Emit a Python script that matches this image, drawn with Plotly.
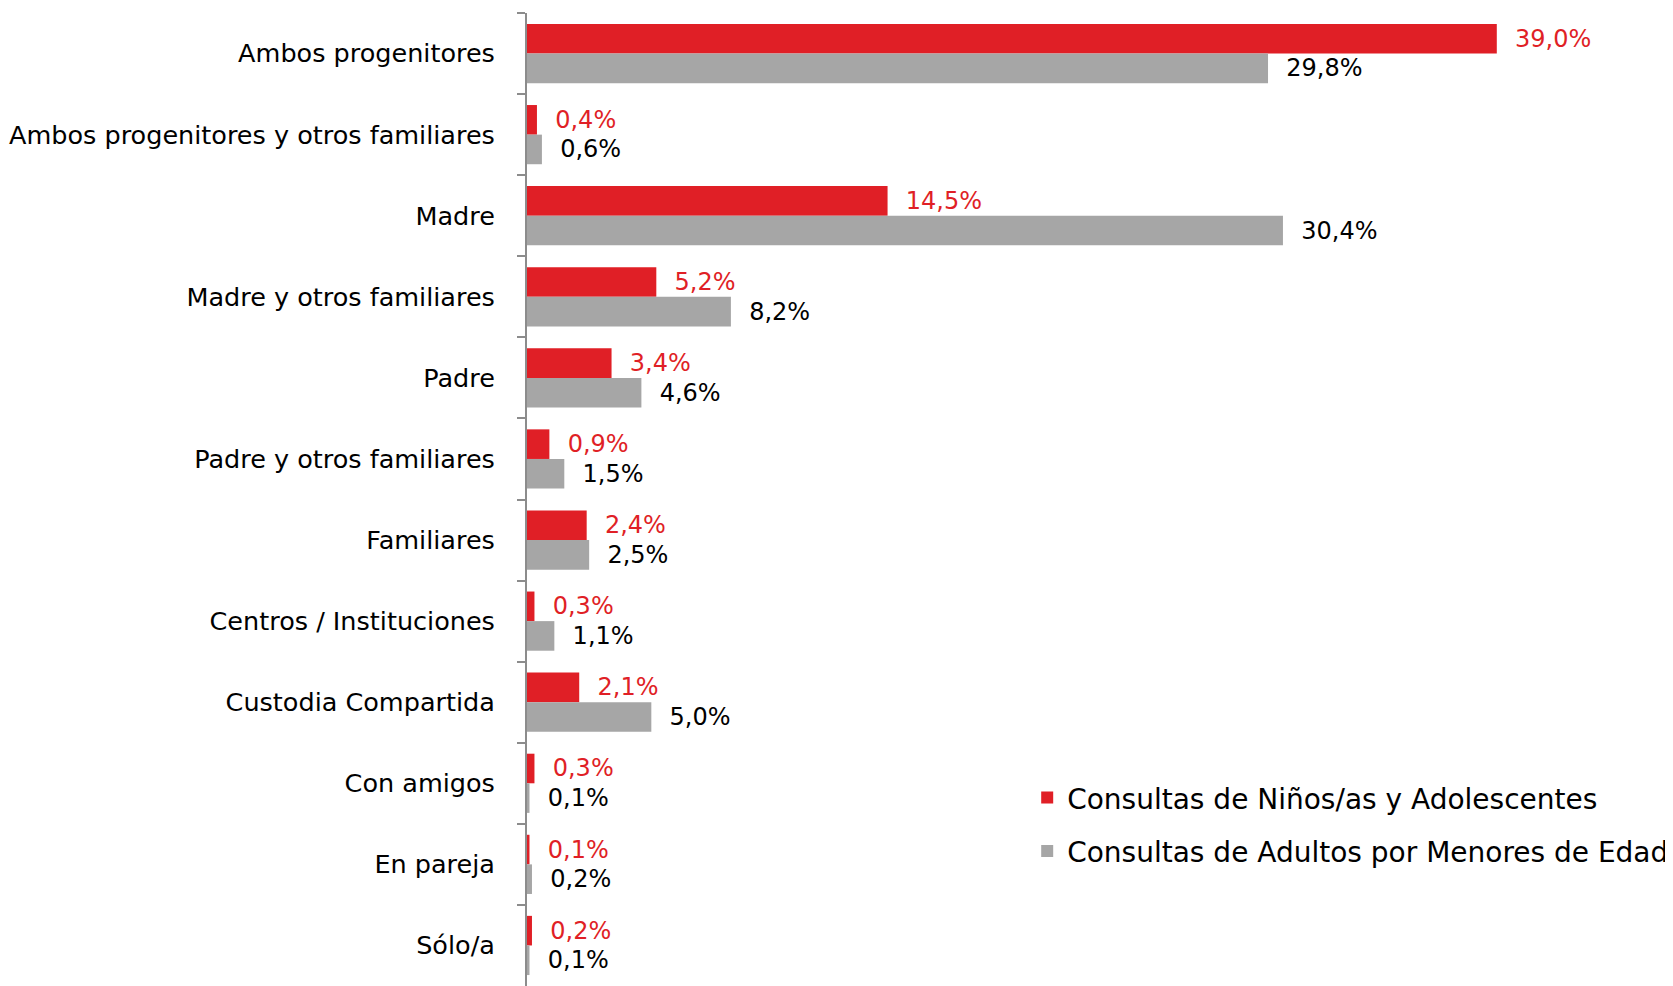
import plotly.graph_objects as go

categories = ["Ambos progenitores", "Ambos progenitores y otros familiares", "Madre",
              "Madre y otros familiares", "Padre", "Padre y otros familiares", "Familiares",
              "Centros / Instituciones", "Custodia Compartida", "Con amigos", "En pareja", "Sólo/a"]
ninos = [39.0, 0.4, 14.5, 5.2, 3.4, 0.9, 2.4, 0.3, 2.1, 0.3, 0.1, 0.2]
adultos = [29.8, 0.6, 30.4, 8.2, 4.6, 1.5, 2.5, 1.1, 5.0, 0.1, 0.2, 0.1]
series_names = ["Consultas de Niños/as y Adolescentes", "Consultas de Adultos por Menores de Edad"]

RED = "#E01F26"
GRAY = "#A6A6A6"
FONT = "DejaVu Sans"
PAD = "\u00a0\u00a0"

fig = go.Figure()
fig.add_trace(go.Bar(y=categories, x=ninos, orientation="h", name=series_names[0],
                     legendgroup="a",
                     marker=dict(color=RED, line=dict(width=0)),
                     texttemplate=PAD + "%{x:.1f}%", textposition="outside", cliponaxis=False,
                     constraintext="none",
                     textfont=dict(color=RED, size=24, family=FONT)))
fig.add_trace(go.Bar(y=categories, x=adultos, orientation="h", name=series_names[1],
                     legendgroup="b",
                     marker=dict(color=GRAY, line=dict(width=0)),
                     texttemplate=PAD + "%{x:.1f}%", textposition="outside", cliponaxis=False,
                     constraintext="none",
                     textfont=dict(color="black", size=24, family=FONT)))

# the page body adds an 8px offset, so the figure is 8px smaller than the window
fig.update_layout(
    width=1665, height=978,
    margin=dict(l=519, r=27, t=5, b=0, autoexpand=False),
    paper_bgcolor="white", plot_bgcolor="white",
    barmode="group", bargap=0.27, bargroupgap=0,
    separators=",.",
    font=dict(family=FONT, size=25, color="black"),
    legend=dict(x=0.447, y=0.219, xanchor="left", yanchor="top",
                font=dict(size=28, family=FONT, color="black"),
                bgcolor="rgba(0,0,0,0)", itemwidth=30, tracegroupgap=14,
                traceorder="grouped"),
    showlegend=True,
)
fig.update_xaxes(range=[0, 45], visible=False, showgrid=False, zeroline=False, automargin=False)
fig.update_yaxes(autorange="reversed", type="category", showline=True, linecolor="#8C8C8C",
                 linewidth=2, ticks="outside", tickson="boundaries", ticklen=8,
                 tickcolor="#8C8C8C", tickwidth=2, showgrid=False, automargin=False,
                 tickfont=dict(size=25.5, family=FONT, color="black"), ticklabelstandoff=25)

fig.write_html("out.html")
